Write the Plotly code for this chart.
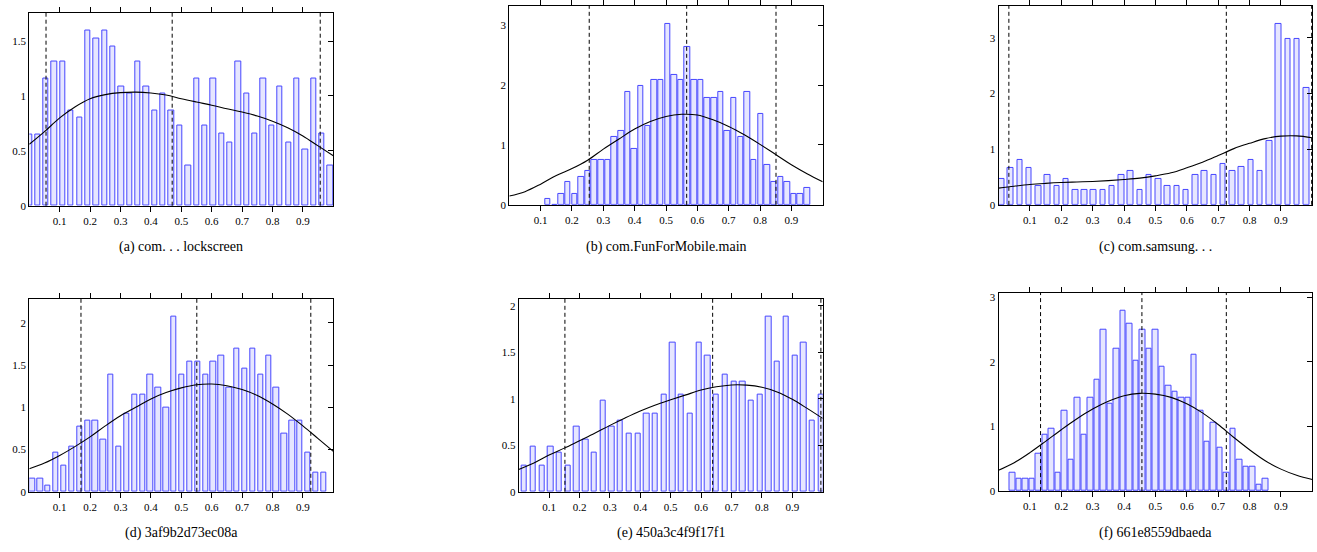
import plotly.graph_objects as go

# ---------------- data ----------------
curve_x = [0.0, 0.05, 0.1, 0.15, 0.2, 0.25, 0.3, 0.35, 0.4, 0.45, 0.5,
           0.55, 0.6, 0.65, 0.7, 0.75, 0.8, 0.85, 0.9, 0.95, 1.0]
x_tick_vals = [0.1, 0.2, 0.3, 0.4, 0.5, 0.6, 0.7, 0.8, 0.9]
x_tick_text = ["0.1", "0.2", "0.3", "0.4", "0.5", "0.6", "0.7", "0.8", "0.9"]

# (a) com...lockscreen
a_values = [0.65, 0.65, 1.16, 1.31, 1.31, 0.87, 0.80, 1.60, 1.52, 1.60, 1.45, 1.09,
            1.02, 1.31, 1.09, 0.87, 1.02, 0.87, 0.73, 0.37, 1.16, 0.73, 1.16, 0.66,
            0.58, 1.31, 1.02, 0.66, 1.16, 0.73, 1.09, 0.58, 1.16, 0.51, 1.16, 0.66, 0.37]
a_bin_first, a_bin_step = 0.0, 0.0275
a_curve = [0.56, 0.675, 0.80, 0.90, 0.975, 1.012, 1.03, 1.035, 1.027, 1.008, 0.975,
           0.945, 0.916, 0.884, 0.853, 0.817, 0.77, 0.71, 0.635, 0.545, 0.455]
a_marks = [0.055, 0.470, 0.957]
a_yticks = [0, 0.5, 1, 1.5]
a_caption = "(a) com. . . lockscreen"

# (b) com.FunForMobile.main
b_values = [0.094, 0.0, 0.19, 0.38, 0.19, 0.47, 0.57, 0.75, 0.75, 0.75, 1.13, 1.23,
            1.89, 0.94, 1.98, 1.32, 2.08, 2.08, 3.02, 2.17, 2.08, 2.64, 2.08, 2.08,
            1.79, 1.79, 1.89, 1.23, 1.79, 1.13, 1.89, 0.75, 1.51, 0.66, 0.38, 0.47,
            0.38, 0.19, 0.19, 0.28]
b_bin_first, b_bin_step = 0.1235, 0.0212
b_curve = [0.148, 0.22, 0.345, 0.49, 0.605, 0.745, 0.93, 1.10, 1.265, 1.39, 1.475,
           1.512, 1.50, 1.42, 1.31, 1.17, 1.01, 0.84, 0.67, 0.52, 0.385]
b_marks = [0.255, 0.566, 0.851]
b_yticks = [0, 1, 2, 3]
b_caption = "(b) com.FunForMobile.main"

# (c) com.samsung...
c_values = [0.47, 0.67, 0.81, 0.67, 0.34, 0.54, 0.34, 0.47, 0.27, 0.27, 0.27, 0.27,
            0.34, 0.54, 0.61, 0.27, 0.54, 0.47, 0.34, 0.34, 0.27, 0.54, 0.61, 0.54,
            0.74, 0.61, 0.68, 0.81, 0.61, 1.15, 3.25, 2.98, 2.98, 2.10]
c_bin_first, c_bin_step = 0.009, 0.02945
c_curve = [0.30, 0.335, 0.365, 0.385, 0.40, 0.41, 0.42, 0.435, 0.455, 0.48, 0.52,
           0.575, 0.665, 0.765, 0.885, 1.01, 1.105, 1.19, 1.235, 1.24, 1.207]
c_marks = [0.033, 0.726, 0.998]
c_yticks = [0, 1, 2, 3]
c_caption = "(c) com.samsung. . ."

# (d) 3af9b2d73ec08a
d_values = [0.154, 0.154, 0.077, 0.462, 0.308, 0.539, 0.77, 0.847, 0.847, 0.616,
            1.386, 0.539, 0.924, 1.155, 1.155, 1.386, 1.232, 1.0, 2.079, 1.386,
            1.54, 1.54, 1.386, 1.54, 1.617, 1.232, 1.694, 1.463, 1.694, 1.386,
            1.617, 1.232, 0.693, 0.847, 0.847, 0.462, 0.231, 0.231]
d_bin_first, d_bin_step = 0.010, 0.0259
d_curve = [0.272, 0.34, 0.43, 0.535, 0.65, 0.78, 0.90, 1.00, 1.10, 1.175, 1.23,
           1.267, 1.276, 1.255, 1.21, 1.14, 1.04, 0.92, 0.78, 0.63, 0.479]
d_marks = [0.170, 0.551, 0.926]
d_yticks = [0, 0.5, 1, 1.5, 2]
d_caption = "(d) 3af9b2d73ec08a"

# (e) 450a3c4f9f17f1
e_values = [0.28, 0.49, 0.28, 0.49, 0.42, 0.28, 0.70, 0.56, 0.42, 0.98, 0.70, 0.77,
            0.63, 0.63, 0.84, 0.84, 1.05, 1.61, 1.05, 0.84, 1.61, 1.47, 1.05, 1.26,
            1.19, 1.19, 0.98, 1.05, 1.89, 1.40, 1.89, 1.47, 1.61, 0.77, 1.05]
e_bin_first, e_bin_step = 0.019, 0.0287
e_curve = [0.24, 0.31, 0.395, 0.47, 0.55, 0.63, 0.715, 0.795, 0.87, 0.935, 0.99,
           1.043, 1.095, 1.13, 1.15, 1.148, 1.125, 1.075, 0.995, 0.895, 0.79]
e_marks = [0.152, 0.638, 0.994]
e_yticks = [0, 0.5, 1, 1.5, 2]
e_caption = "(e) 450a3c4f9f17f1"

# (f) 661e8559dbaeda
f_values = [0.29, 0.19, 0.19, 0.19, 0.58, 0.87, 0.96, 0.29, 1.25, 0.48, 1.44, 0.87,
            1.44, 1.73, 2.50, 1.35, 2.21, 2.79, 2.59, 2.02, 2.50, 2.21, 2.50, 1.92,
            1.63, 1.54, 1.44, 1.44, 2.11, 1.25, 0.77, 1.06, 0.67, 0.29, 0.96, 0.48,
            0.38, 0.38, 0.10, 0.19]
f_bin_first, f_bin_step = 0.0442, 0.0207
f_curve = [0.323, 0.44, 0.595, 0.77, 0.95, 1.12, 1.27, 1.39, 1.475, 1.512, 1.50,
           1.45, 1.35, 1.21, 1.03, 0.83, 0.64, 0.47, 0.34, 0.245, 0.18]
f_marks = [0.134, 0.457, 0.726]
f_yticks = [0, 1, 2, 3]
f_caption = "(f) 661e8559dbaeda"

# ---------------- layout (page-pixel boxes: left, right, top, bottom) ----------------
W, H = 1317, 552
panels = [
    (a_values, a_bin_first, a_bin_step, a_curve, a_marks, a_yticks, a_caption, (29.3, 333.3, 10.7, 206.7)),
    (b_values, b_bin_first, b_bin_step, b_curve, b_marks, b_yticks, b_caption, (509.3, 822.7, 4.0, 205.8)),
    (c_values, c_bin_first, c_bin_step, c_curve, c_marks, c_yticks, c_caption, (998.5, 1312.3, 4.0, 205.8)),
    (d_values, d_bin_first, d_bin_step, d_curve, d_marks, d_yticks, d_caption, (29.3, 333.3, 301.0, 497.0)),
    (e_values, e_bin_first, e_bin_step, e_curve, e_marks, e_yticks, e_caption, (518.7, 822.7, 301.0, 497.0)),
    (f_values, f_bin_first, f_bin_step, f_curve, f_marks, f_yticks, f_caption, (998.5, 1312.3, 295.0, 496.3)),
]
caption_y_px = [249, 249, 249, 539, 539, 539]

def px_x(p):
    return p / W

def px_y(p):
    return 1 - p / H

FONT = "Liberation Serif"
BAR_FILL = "rgb(230,230,255)"
BAR_LINE = "rgb(70,70,255)"
BAR_W = 0.0175

fig = go.Figure()
layout = dict(
    width=W, height=H, autosize=False,
    margin=dict(l=0, r=0, t=0, b=0),
    paper_bgcolor="white", plot_bgcolor="white",
    showlegend=False, bargap=0,
    font=dict(family=FONT, size=11, color="black"),
)
shapes, annotations = [], []

def fmt(v):
    return ("%g" % v)

for i, (vals, first, step, curve, marks, yt, cap, box) in enumerate(panels):
    k = i + 1
    xs = "" if k == 1 else str(k)
    ov = str(k + 6)
    left, right, top, bottom = box
    xdom = [px_x(left), px_x(right)]
    ydom = [px_y(bottom), px_y(top)]
    ymax = 1.1 * max(vals)
    centers = [first + j * step for j in range(len(vals))]

    fig.add_trace(go.Bar(x=centers, y=vals, width=BAR_W,
                         marker=dict(color=BAR_FILL, line=dict(color=BAR_LINE, width=1)),
                         xaxis="x" + xs, yaxis="y" + xs, hoverinfo="skip"))
    fig.add_trace(go.Scatter(x=curve_x, y=curve, mode="lines",
                             line=dict(color="black", width=1.1, shape="spline", smoothing=1.0),
                             xaxis="x" + xs, yaxis="y" + xs, hoverinfo="skip"))
    # dummy trace to realise the right-hand tick axis
    fig.add_trace(go.Scatter(x=[None], y=[None], mode="lines",
                             xaxis="x" + xs, yaxis="y" + ov, hoverinfo="skip"))

    layout["xaxis" + xs] = dict(
        domain=xdom, anchor="y" + xs, range=[0, 1],
        tickvals=x_tick_vals, ticktext=x_tick_text,
        ticks="outside", ticklen=5, tickwidth=0.8, tickcolor="black", mirror="ticks",
        showline=True, linecolor="black", linewidth=1,
        showgrid=False, zeroline=False, fixedrange=True,
        tickfont=dict(family=FONT, size=11, color="black"),
    )
    layout["yaxis" + xs] = dict(
        domain=ydom, anchor="x" + xs, range=[0, ymax],
        tickvals=yt, ticktext=[fmt(v) for v in yt],
        ticks="", showline=True, linecolor="black", linewidth=1, mirror=True,
        showgrid=False, zeroline=False, fixedrange=True,
        tickfont=dict(family=FONT, size=11, color="black"),
    )
    layout["yaxis" + ov] = dict(
        overlaying="y" + xs, side="right", anchor="x" + xs, range=[0, ymax],
        tickvals=yt, showticklabels=False,
        ticks="inside", ticklen=5, tickwidth=0.8, tickcolor="black",
        showline=False, showgrid=False, zeroline=False, fixedrange=True,
    )

    for m in marks:
        shapes.append(dict(type="line", xref="x" + xs, yref="y" + xs + " domain",
                           x0=m, x1=m, y0=0, y1=1,
                           line=dict(color="black", width=1, dash="4px,3px"), layer="above"))

    annotations.append(dict(text=cap, xref="paper", yref="paper",
                            x=px_x((left + right) / 2), y=px_y(caption_y_px[i]),
                            xanchor="center", yanchor="middle", showarrow=False,
                            font=dict(family=FONT, size=14, color="black")))

layout["shapes"] = shapes
layout["annotations"] = annotations
fig.update_layout(**layout)
# remove the browser's default 8px body margin so the figure sits at the page origin
fig.write_html("out.html", config={"displayModeBar": False},
               post_script="document.body.style.margin='0px';")
